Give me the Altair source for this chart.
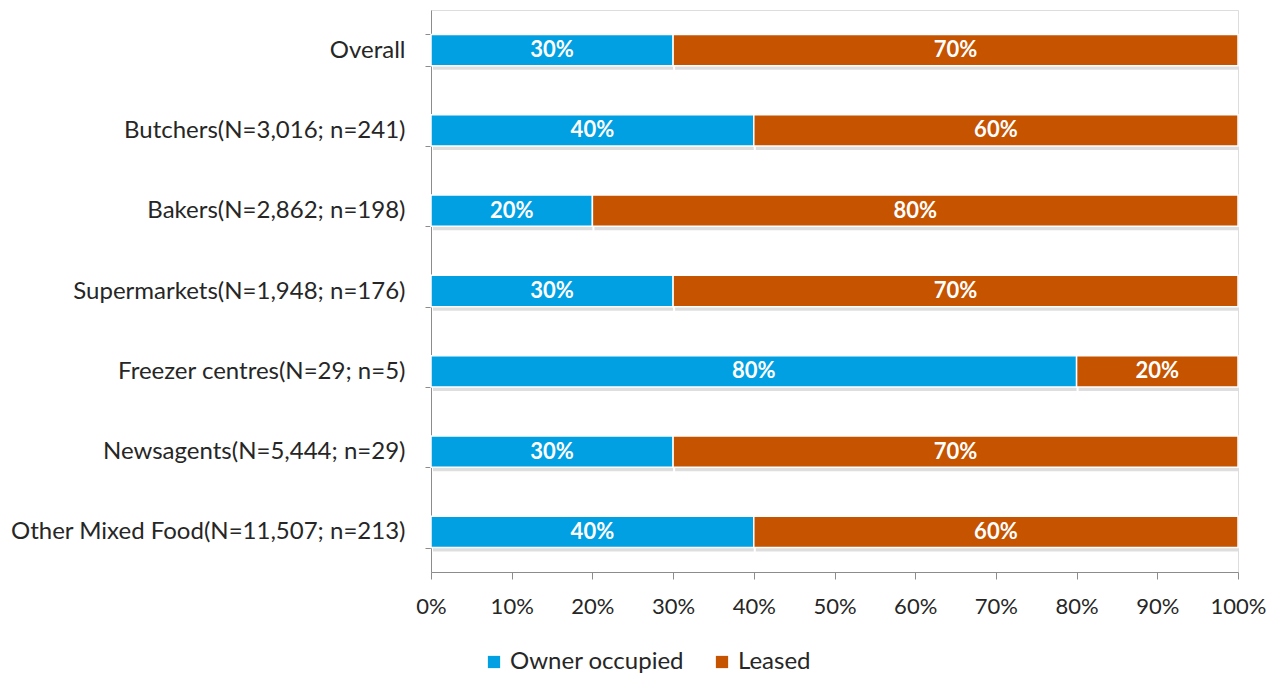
import altair as alt
import pandas as pd

categories = [
    "Overall",
    "Butchers(N=3,016; n=241)",
    "Bakers(N=2,862; n=198)",
    "Supermarkets(N=1,948; n=176)",
    "Freezer centres(N=29; n=5)",
    "Newsagents(N=5,444; n=29)",
    "Other Mixed Food(N=11,507; n=213)",
]
owner_occupied = [0.30, 0.40, 0.20, 0.30, 0.80, 0.30, 0.40]
leased = [0.70, 0.60, 0.80, 0.70, 0.20, 0.70, 0.60]
series = ["Owner occupied", "Leased"]
colors = ["#00A0E3", "#C55300"]

rows = []
for cat, o, l in zip(categories, owner_occupied, leased):
    rows.append({"cat": cat, "series": series[0], "start": 0.0, "end": o, "value": o})
    rows.append({"cat": cat, "series": series[1], "start": o, "end": o + l, "value": l})
df = pd.DataFrame(rows)

FONT = "Lato"
AXIS_GRAY = "#8c8c8c"
TEXT = "#262626"

y_scale = alt.Scale(paddingInner=0.61, paddingOuter=0.305)
x_scale = alt.Scale(domain=[0, 1], nice=False, zero=True)

y_axis = alt.Axis(
    tickBand="extent",
    labelFontSize=24,
    labelFont=FONT,
    labelColor=TEXT,
    labelPadding=20,
    tickSize=6,
    tickColor=AXIS_GRAY,
    domainColor=AXIS_GRAY,
    labelLimit=500,
    title=None,
)
x_axis = alt.Axis(
    values=[i / 10 for i in range(11)],
    format=".0%",
    grid=False,
    labelFontSize=22,
    labelFont=FONT,
    labelColor=TEXT,
    labelPadding=17,
    labelFlush=False,
    tickSize=7,
    tickColor=AXIS_GRAY,
    domainColor=AXIS_GRAY,
    title=None,
)

base = alt.Chart(df)

# soft drop shadow under each segment
shadow = base.mark_bar(color="#000000", opacity=0.13, yOffset=4, xOffset=2).encode(
    x=alt.X("start:Q", scale=x_scale, axis=x_axis),
    x2="end:Q",
    y=alt.Y("cat:N", sort=categories, scale=y_scale, axis=y_axis),
)

bars = base.mark_bar(stroke="white", strokeWidth=1.5, opacity=1).encode(
    x=alt.X("start:Q", scale=x_scale, axis=x_axis),
    x2="end:Q",
    y=alt.Y("cat:N", sort=categories, scale=y_scale, axis=y_axis),
    color=alt.Color(
        "series:N",
        sort=series,
        scale=alt.Scale(domain=series, range=colors),
        legend=alt.Legend(
            title=None,
            orient="none",
            legendX=51,
            legendY=640,
            direction="horizontal",
            symbolType="square",
            symbolSize=150,
            symbolStrokeWidth=0,
            labelFontSize=24,
            labelFont=FONT,
            labelColor=TEXT,
            labelLimit=400,
            columnPadding=25,
        ),
    ),
)

labels = base.transform_calculate(mid="(datum.start + datum.end) / 2").mark_text(
    color="white", fontSize=22, fontWeight="bold", font=FONT
).encode(
    x=alt.X("mid:Q", scale=x_scale, axis=x_axis),
    y=alt.Y("cat:N", sort=categories, scale=y_scale, axis=y_axis),
    text=alt.Text("value:Q", format=".0%"),
)

chart = (
    alt.layer(shadow, bars, labels)
    .properties(
        width=807,
        height=562,
        autosize=alt.AutoSizeParams(type="none"),
        padding={"left": 431, "top": 10, "right": 39, "bottom": 106},
    )
    .configure_view(strokeWidth=0)
    .configure(background="white")
)

chart.save("out.html", embed_options={"renderer": "svg", "actions": False})
